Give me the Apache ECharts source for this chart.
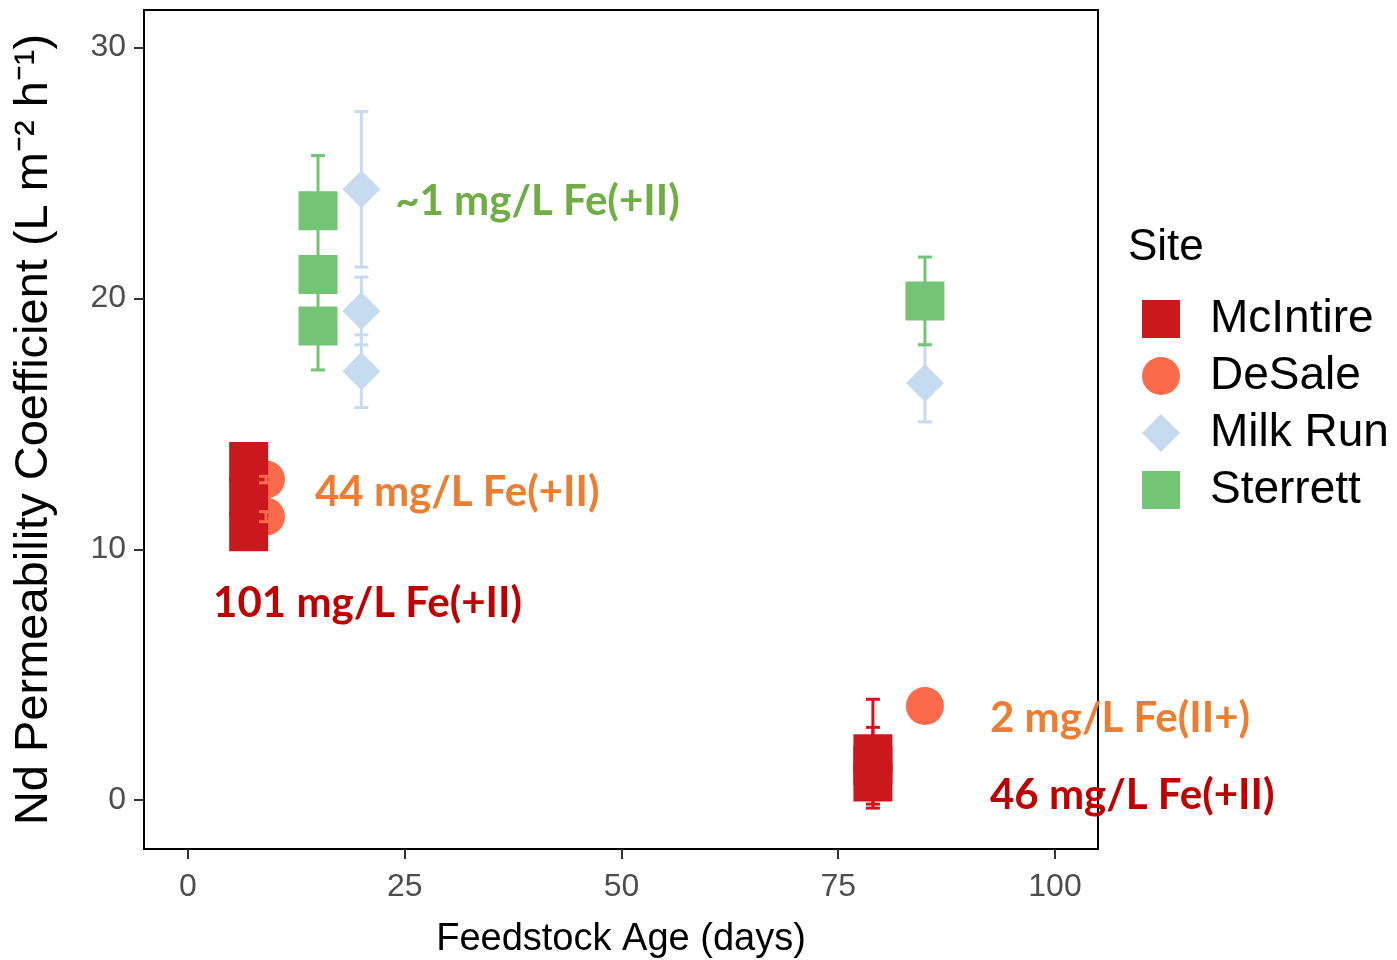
<!DOCTYPE html>
<html>
<head>
<meta charset="utf-8">
<script src="https://cdn.jsdelivr.net/npm/echarts@6/dist/echarts.min.js"></script>
<style>
  html, body { margin: 0; padding: 0; background: #fff; }
  #chart { width: 1397px; height: 960px; }
</style>
</head>
<body>
<div id="chart"></div>
<script>
// Nd permeability coefficient vs. feedstock age, by site (mean ± error)
const sites = ['McIntire', 'DeSale', 'Milk Run', 'Sterrett'];

const mcintireAge  = [7, 7, 7, 79, 79, 79];
const mcintireCoef = [13.5, 12.1, 10.7, 1.85, 1.37, 0.72];
const mcintireErr  = [0.6, 0.6, 0.6, 2.17, 1.53, 0.4];

const desaleAge  = [9, 9, 85];
const desaleCoef = [12.78, 11.3, 3.75];
const desaleErr  = [0.13, 0.2, 0.1];

const milkRunAge  = [20, 20, 20, 85];
const milkRunCoef = [24.35, 19.5, 17.1, 16.63];
const milkRunErr  = [3.1, 1.35, 1.45, 1.55];

const sterrettAge  = [15, 15, 15, 85];
const sterrettCoef = [23.5, 20.95, 18.9, 19.9];
const sterrettErr  = [2.2, 0.7, 1.75, 1.75];

const xTicks = [0, 25, 50, 75, 100];
const yTicks = [0, 10, 20, 30];

// Fe(II) concentration notes, anchored in data coordinates
const noteText = ['~1 mg/L Fe(+II)', '44 mg/L Fe(+II)', '101 mg/L Fe(+II)', '2 mg/L Fe(II+)', '46 mg/L Fe(+II)'];
const noteAge  = [23.9, 14.65, 2.9, 92.5, 92.5];
const noteCoef = [23.85, 12.25, 7.82, 3.27, 0.2];
const noteColors = ['#70AD47', '#ED7D31', '#C00000', '#ED7D31', '#C00000'];

const siteColors = { 'McIntire': '#CB181D', 'DeSale': '#FB6A4A', 'Milk Run': '#C6DBEF', 'Sterrett': '#74C476' };
const siteSymbols = { 'McIntire': 'rect', 'DeSale': 'circle', 'Milk Run': 'diamond', 'Sterrett': 'rect' };
const siteZ = { 'McIntire': 3, 'DeSale': 2, 'Milk Run': 2, 'Sterrett': 2 };

const siteData = {
  'McIntire': [mcintireAge, mcintireCoef, mcintireErr],
  'DeSale':   [desaleAge, desaleCoef, desaleErr],
  'Milk Run': [milkRunAge, milkRunCoef, milkRunErr],
  'Sterrett': [sterrettAge, sterrettCoef, sterrettErr]
};

const pointSeries = sites.map(name => {
  const [age, coef] = siteData[name];
  return {
    name: name,
    type: 'scatter',
    symbol: siteSymbols[name],
    symbolSize: siteSymbols[name] === 'rect' ? 39 : 38,
    itemStyle: { color: siteColors[name], opacity: 1 },
    z: siteZ[name],
    data: age.map((a, i) => [a, coef[i]])
  };
});

function errorBarItem(params, api) {
  const x = api.value(0);
  const pLo = api.coord([x, api.value(1)]);
  const pHi = api.coord([x, api.value(2)]);
  const hw = 7;
  const style = { stroke: api.visual('color'), lineWidth: 3 };
  return {
    type: 'group',
    children: [
      { type: 'line', shape: { x1: pHi[0], y1: pHi[1], x2: pLo[0], y2: pLo[1] }, style: style },
      { type: 'line', shape: { x1: pHi[0] - hw, y1: pHi[1], x2: pHi[0] + hw, y2: pHi[1] }, style: style },
      { type: 'line', shape: { x1: pLo[0] - hw, y1: pLo[1], x2: pLo[0] + hw, y2: pLo[1] }, style: style }
    ]
  };
}

const errorSeries = sites.map(name => {
  const [age, coef, err] = siteData[name];
  return {
    name: name + ' error',
    type: 'custom',
    renderItem: errorBarItem,
    itemStyle: { color: siteColors[name], opacity: 1 },
    z: 4,
    silent: true,
    encode: { x: 0, y: [1, 2] },
    data: age.map((a, i) => [a, coef[i] - err[i], coef[i] + err[i]])
  };
});

const noteSeries = {
  name: 'notes',
  type: 'scatter',
  symbolSize: 0,
  silent: true,
  z: 6,
  clip: false,
  itemStyle: { opacity: 1 },
  label: {
    show: true,
    position: 'right',
    distance: 0,
    align: 'left',
    verticalAlign: 'middle',
    fontFamily: 'Lato',
    fontWeight: 'bold',
    fontSize: 42,
    opacity: 1,
    formatter: p => p.data.text
  },
  data: noteText.map((t, i) => ({
    value: [noteAge[i], noteCoef[i]],
    text: t,
    label: { color: noteColors[i] }
  }))
};

const chart = echarts.init(document.getElementById('chart'), null, { renderer: 'canvas' });

chart.setOption({
  animation: false,
  backgroundColor: '#ffffff',
  textStyle: { fontFamily: 'Liberation Sans, Arial, sans-serif' },
  grid: {
    left: 144, top: 10, right: 299, bottom: 111,
    outerBoundsMode: 'none',
    containLabel: false,
    show: true, borderColor: '#000', borderWidth: 2, backgroundColor: '#fff'
  },
  xAxis: {
    type: 'value',
    min: -5.07, max: 104.96,
    name: 'Feedstock Age (days)',
    nameLocation: 'middle',
    nameGap: 72,
    nameTextStyle: { fontSize: 38, color: '#000', fontFamily: 'Liberation Sans' },
    splitLine: { show: false },
    axisLine: { show: true, onZero: false, lineStyle: { color: '#000', width: 2 } },
    axisTick: { show: true, length: 10, lineStyle: { color: '#333', width: 2 }, customValues: xTicks },
    axisLabel: { color: '#4D4D4D', fontSize: 32, margin: 22, customValues: xTicks, fontFamily: 'Liberation Sans' }
  },
  yAxis: {
    type: 'value',
    min: -1.95, max: 31.5,
    name: 'Nd Permeability Coefficient (L m\u207B\u00B2 h\u207B\u00B9)',
    nameLocation: 'middle',
    nameGap: 86,
    nameTextStyle: { fontSize: 47, color: '#000', fontFamily: 'Liberation Sans' },
    splitLine: { show: false },
    axisLine: { show: true, onZero: false, lineStyle: { color: '#000', width: 2 } },
    axisTick: { show: true, length: 10, lineStyle: { color: '#333', width: 2 }, customValues: yTicks },
    axisLabel: { color: '#4D4D4D', fontSize: 32, margin: 18, customValues: yTicks, fontFamily: 'Liberation Sans' }
  },
  title: {
    text: 'Site',
    left: 1128, top: 226,
    padding: 0,
    textStyle: { fontSize: 44, fontWeight: 'normal', color: '#000', fontFamily: 'Liberation Sans' }
  },
  legend: {
    orient: 'vertical',
    left: 1142, top: 296,
    padding: 0,
    itemWidth: 38, itemHeight: 38,
    itemGap: 11,
    selectedMode: false,
    textStyle: { fontSize: 46, color: '#000', lineHeight: 38, padding: [0, 0, 0, 25], fontFamily: 'Liberation Sans' },
    data: sites.map(n => ({ name: n, icon: siteSymbols[n], itemStyle: { color: siteColors[n] } }))
  },
  series: [...pointSeries, ...errorSeries, noteSeries]
});
</script>
</body>
</html>
